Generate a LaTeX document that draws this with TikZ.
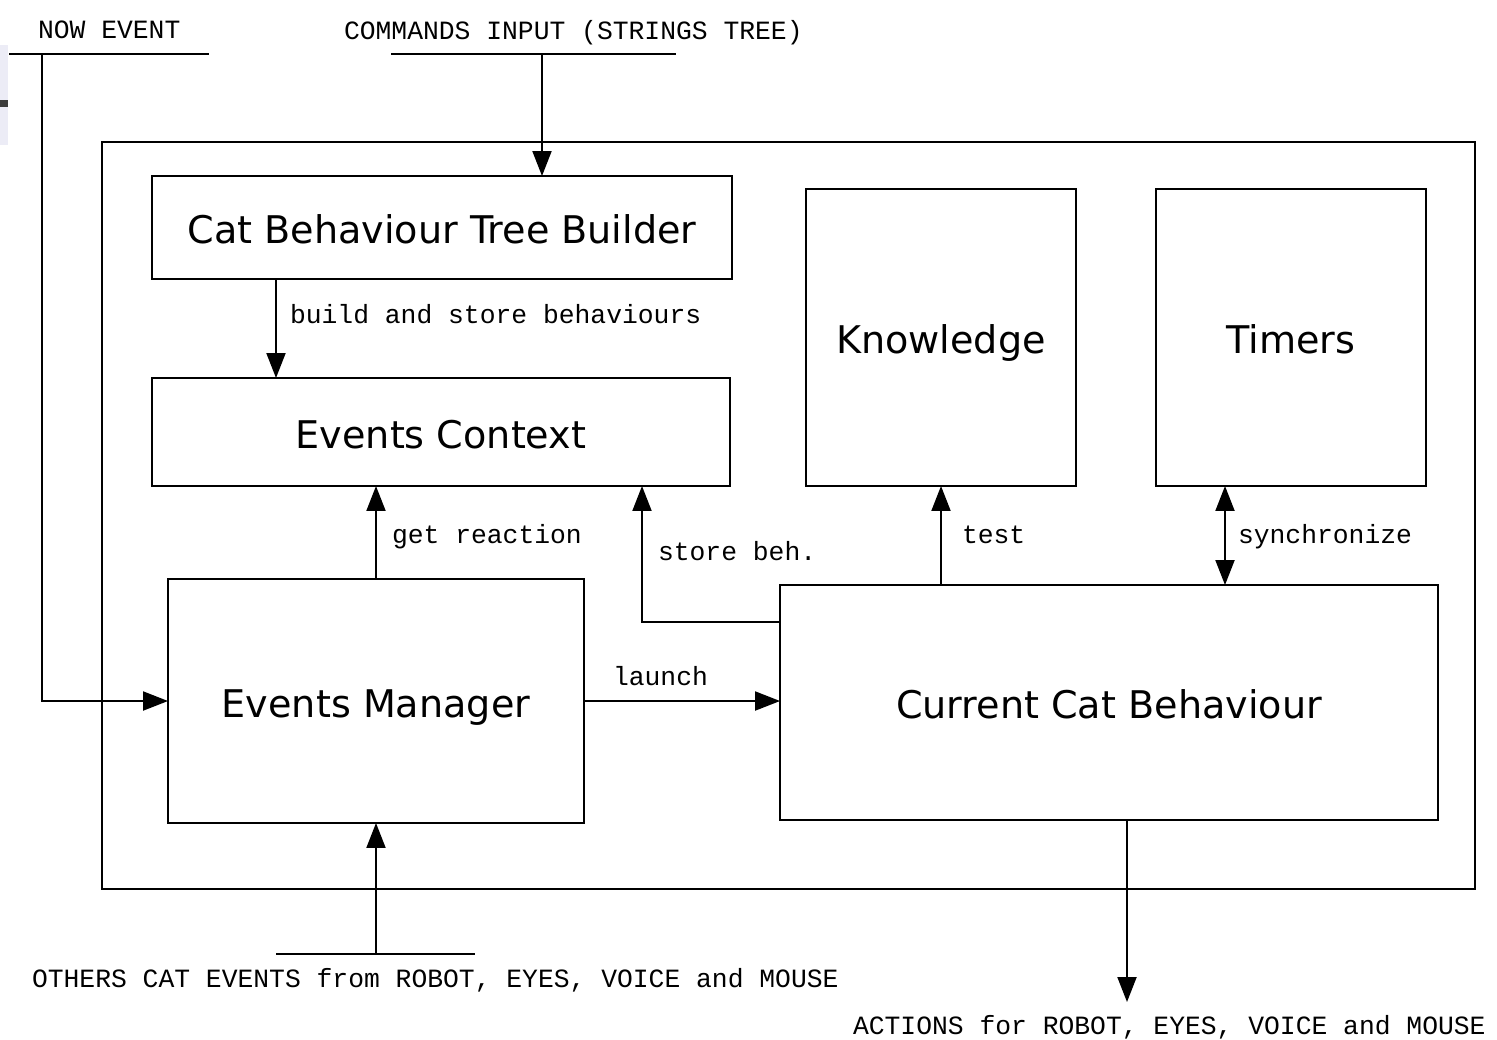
\documentclass[tikz,border=0pt]{standalone}
\usepackage{fontspec}
\setsansfont{DejaVu Sans}
\setmonofont{Liberation Mono}
\usetikzlibrary{arrows.meta,calc}
\definecolor{sidebg}{RGB}{236,236,246}
\definecolor{sidebar}{RGB}{60,60,60}
\begin{document}
\begin{tikzpicture}[x=0.02cm,y=-0.02cm,
  line width=1.13pt,
  box/.style={draw, line width=1.13pt, inner sep=0pt, outer sep=0pt, align=center,
    text height=18.7pt, text depth=0pt,
    font=\sffamily\fontsize{21.7}{25}\selectfont},
  lbl/.style={anchor=base west, inner sep=0pt, outer sep=0pt,
    font=\ttfamily\fontsize{15}{18}\selectfont},
  arr/.style={-{Triangle[length=0.5cm,width=0.38cm]}},
  darr/.style={{Triangle[length=0.5cm,width=0.38cm]}-{Triangle[length=0.5cm,width=0.38cm]}}]
\useasboundingbox (0,0) rectangle (1497,1039);
\fill[white] (0,0) rectangle (1497,1039);
% slide artifact at left edge
\fill[sidebg] (0,45) rectangle (8,145);
\fill[sidebar] (0,100) rectangle (8,107);

% boxes
\node[box, minimum width=27.46cm, minimum height=14.94cm] (frame) at (788.5,515.5) {};
\node[box, minimum width=11.6cm, minimum height=2.06cm] (builder) at (442,227.5) {Cat Behaviour Tree Builder};
\node[box, minimum width=11.56cm, minimum height=2.16cm] (ctx) at (441,432) {Events Context};
\node[box, minimum width=5.4cm, minimum height=5.94cm] (kn) at (941,337.5) {Knowledge};
\node[box, minimum width=5.4cm, minimum height=5.94cm] (tm) at (1291,337.5) {Timers};
\node[box, minimum width=8.32cm, minimum height=4.88cm] (em) at (376,701) {Events Manager};
\node[box, minimum width=13.16cm, minimum height=4.7cm] (cur) at (1109,702.5) {Current Cat Behaviour};

% labels
\node[lbl] (lnow) at (38,38) {NOW EVENT};
\node[lbl] (lcmd) at (344,39) {COMMANDS INPUT (STRINGS TREE)};
\node[lbl] (lbuild) at (290,323) {build and store behaviours};
\node[lbl] (lget) at (392,543) {get reaction};
\node[lbl] (lstore) at (658,560) {store beh.};
\node[lbl] (ltest) at (962,543) {test};
\node[lbl] (lsync) at (1238,543) {synchronize};
\node[lbl] (llaunch) at (613,685) {launch};
\node[lbl] (lothers) at (32,987) {OTHERS CAT EVENTS from ROBOT, EYES, VOICE and MOUSE};
\node[lbl] (lact) at (853,1034) {ACTIONS for ROBOT, EYES, VOICE and MOUSE};

% input / output stubs
\coordinate (nowL) at (9,54);
\coordinate (nowR) at (209,54);
\coordinate (nowJ) at (42,54);
\coordinate (cmdL) at (391,54);
\coordinate (cmdR) at (676,54);
\coordinate (cmdJ) at (542,54);
\coordinate (othL) at (276,954);
\coordinate (othR) at (475,954);
\coordinate (othJ) at (376,954);
\coordinate (actEnd) at (1127,1002);

\draw (nowL) -- (nowR);
\draw (cmdL) -- (cmdR);
\draw (othL) -- (othR);

% connectors
\draw[arr] (nowJ) |- (em.west);
\draw[arr] (cmdJ) -- (cmdJ |- builder.north);
\draw[arr] (builder.south -| 276,0) -- (ctx.north -| 276,0);
\draw[arr] (em.north) -- (em.north |- ctx.south);
\draw[arr] (cur.west |- 0,622) -| (ctx.south -| 642,0);
\draw[arr] (kn.south |- cur.north) -- (kn.south);
\draw[darr] (tm.south -| 1225,0) -- (cur.north -| 1225,0);
\draw[arr] (em.east) -- (cur.west |- em.east);
\draw[arr] (othJ) -- (em.south);
\draw[arr] (cur.south -| actEnd) -- (actEnd);
\end{tikzpicture}
\end{document}
